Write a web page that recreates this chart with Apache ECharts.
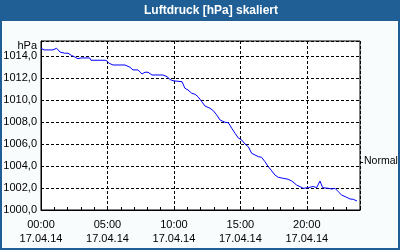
<!DOCTYPE html>
<html>
<head>
<meta charset="utf-8">
<script src="https://cdn.jsdelivr.net/npm/echarts@6/dist/echarts.min.js"></script>
<style>
html,body{margin:0;padding:0;background:#fff;}
#c{width:400px;height:250px;}
</style>
</head>
<body>
<div id="c"></div>
<script>
// Data (hours since 17.04.14 00:00, pressure in hPa)
const hours = [0,0.23,0.9,1.17,1.43,1.78,2.03,2.28,2.54,2.78,3.01,3.66,3.76,4.89,5.12,5.42,6.32,6.70,6.92,7.30,7.60,7.82,8.05,8.35,9.18,9.48,9.71,9.93,10.08,10.61,10.83,11.06,11.34,11.59,11.81,12.09,12.34,12.71,12.96,13.22,13.47,13.84,14.09,14.35,14.60,14.84,15.10,15.35,15.60,15.85,16.10,16.35,16.60,16.85,17.10,17.36,17.60,17.85,18.23,18.60,18.86,19.23,19.49,19.73,20.11,20.49,20.74,20.99,21.19,21.62,21.87,22.12,22.37,22.62,23.00,23.25,23.50,23.77];
const pressure = [1014.70,1014.55,1014.55,1014.70,1014.36,1014.25,1014.25,1014.06,1013.91,1013.75,1013.82,1013.82,1013.61,1013.61,1013.34,1013.18,1013.18,1012.97,1012.73,1012.73,1012.36,1012.52,1012.52,1012.27,1012.27,1012.12,1011.86,1011.75,1011.66,1011.66,1011.06,1010.91,1010.61,1010.52,1010.30,1009.85,1009.45,1009.25,1009.03,1008.64,1008.18,1007.97,1007.94,1007.43,1006.97,1006.55,1006.36,1006.00,1005.75,1005.15,1005.00,1004.85,1004.79,1004.39,1003.94,1003.55,1003.18,1002.97,1002.88,1002.79,1002.64,1002.27,1002.12,1001.97,1002.03,1002.14,1002.03,1002.64,1002.03,1001.97,1001.91,1001.97,1001.66,1001.36,1001.15,1001.00,1000.97,1000.82];
const dateLabel = '17.04.14';
const titleText = 'Luftdruck [hPa] skaliert';
const unitText = 'hPa';
const normalLabel = 'Normal';
const normalValue = 1004.4;
const yMin = 1000, yMax = 1015.36, yStep = 2;
const xMin = 0, xMax = 24, xStep = 5;

const FONT = '"Liberation Sans", Arial, sans-serif';
const BLUE = '#1f5f96';

const chart = echarts.init(document.getElementById('c'), null, {renderer: 'canvas'});
const seriesData = hours.map((h, i) => [h, pressure[i]]);

function pad(n){ return (n < 10 ? '0' : '') + n; }

const option = {
  animation: false,
  backgroundColor: '#f9fcfc',
  grid: {left: 41, top: 41, right: 40, bottom: 40, show: true, backgroundColor: '#ffffff', borderColor: '#000', borderWidth: 1},
  xAxis: [{
    type: 'value', min: xMin, max: xMax, interval: xStep,
    axisLine: {show: true, lineStyle: {color: '#000', width: 1}},
    axisTick: {show: true, inside: true, length: 3, lineStyle: {color: '#000'}},
    axisLabel: {
      color: '#000', fontFamily: FONT, fontSize: 11, lineHeight: 14, margin: 8,
      showMaxLabel: false,
      formatter: v => (v % xStep === 0 && v < xMax) ? pad(v) + ':00\n' + dateLabel : ''
    },
    splitLine: {show: true, lineStyle: {color: '#000', type: [3, 2], width: 1}}
  }, {
    type: 'value', min: xMin, max: xMax, interval: 1, position: 'bottom', gridIndex: 0,
    axisLine: {show: false},
    axisTick: {show: true, inside: true, length: 3, lineStyle: {color: '#000'}},
    axisLabel: {show: false},
    splitLine: {show: false}
  }],
  yAxis: {
    type: 'value', min: yMin, max: yMax, interval: yStep,
    axisLine: {show: true, lineStyle: {color: '#000', width: 1}},
    axisTick: {show: false},
    axisLabel: {
      color: '#000', fontFamily: FONT, fontSize: 11, margin: 4,
      formatter: v => (Math.abs((v - yMin) % yStep) < 1e-6) ? v.toFixed(1).replace('.', ',') : ''
    },
    splitLine: {show: true, lineStyle: {color: '#000', type: [3, 2], width: 1}}
  },
  series: [{
    type: 'line', xAxisIndex: 0, data: seriesData, showSymbol: false, symbol: 'none',
    lineStyle: {color: '#0000ff', width: 1}, smooth: false, z: 5
  }],
  graphic: []
};
chart.setOption(option);

const ny = chart.convertToPixel({yAxisIndex: 0}, normalValue);
const rightX = chart.convertToPixel({xAxisIndex: 0}, xMax);
const topY = chart.convertToPixel({yAxisIndex: 0}, yMax);
const leftX = chart.convertToPixel({xAxisIndex: 0}, xMin);

chart.setOption({
  graphic: [
    {type: 'rect', z: 0, shape: {x: 0, y: 0, width: 400, height: 21}, style: {fill: BLUE}},
    {type: 'text', z: 10, x: 211, y: 11, style: {text: titleText, fill: '#fff', font: 'bold 12px ' + FONT, textAlign: 'center', textVerticalAlign: 'middle'}},
    {type: 'rect', z: 10, shape: {x: 1, y: 1, width: 398, height: 248}, style: {fill: null, stroke: BLUE, lineWidth: 2}},
    {type: 'text', z: 10, x: leftX - 4, y: topY + 5, style: {text: unitText, fill: '#000', font: '11px ' + FONT, textAlign: 'right', textVerticalAlign: 'middle'}},
    {type: 'line', z: 10, shape: {x1: rightX, y1: Math.round(ny) + 0.5, x2: rightX + 3, y2: Math.round(ny) + 0.5}, style: {stroke: '#000', lineWidth: 1}},
    {type: 'text', z: 10, x: rightX + 4, y: ny, style: {text: normalLabel, fill: '#000', font: '10.5px ' + FONT, textAlign: 'left', textVerticalAlign: 'middle'}}
  ]
});
</script>
</body>
</html>
